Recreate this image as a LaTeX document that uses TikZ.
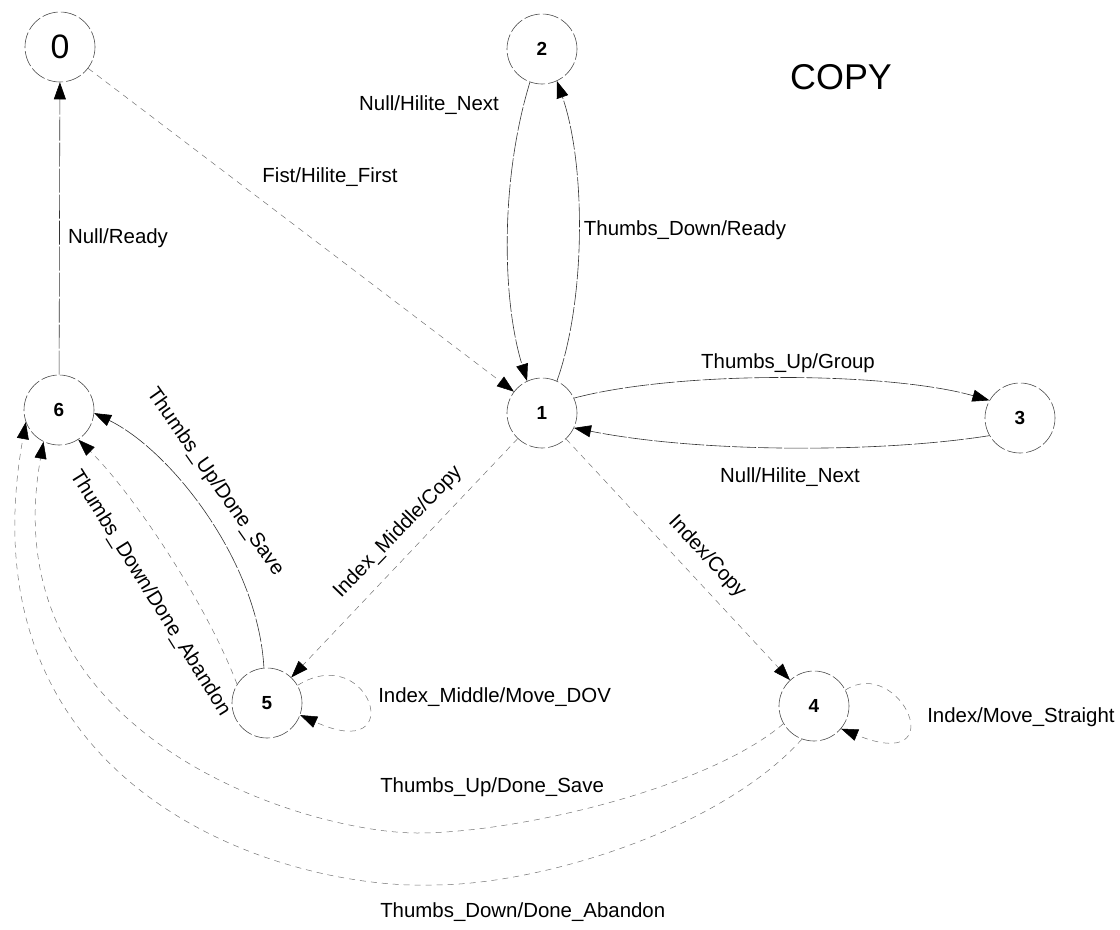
\documentclass[tikz,border=0pt]{standalone}
\usepackage{fontspec}
\setmainfont{Liberation Sans}
\usetikzlibrary{arrows.meta}
\tikzset{
  state/.style={circle, draw=black!70, line width=0.6bp, dash pattern=on 16bp off 3bp,
    minimum size=70bp, inner sep=0pt, font=\fontsize{19}{22}\selectfont\bfseries},
  bigstate/.style={state, font=\fontsize{34}{40}\selectfont},
  tip/.style={-{Triangle[length=17bp,width=12bp,color=black,fill=black]}},
  solidedge/.style={draw=black!80, line width=0.6bp, dash pattern=on 24bp off 2bp, tip},
  faintedge/.style={draw=black!55, line width=0.5bp, dash pattern=on 6bp off 5bp, tip},
  lbl/.style={font=\fontsize{20.5}{24}\selectfont, inner sep=0pt, text=black},
  title/.style={font=\fontsize{36}{42}\selectfont, inner sep=0pt}
}
\begin{document}
\begin{tikzpicture}[x=1bp, y=-1bp]
\path[use as bounding box] (0,0) rectangle (1120,930);

% states
\node[bigstate] (n0) at (60,47) {0};
\node[state] (n2) at (542,49) {2};
\node[state] (n1) at (542,413) {1};
\node[state] (n3) at (1020,418) {3};
\node[state] (n6) at (59,410) {6};
\node[state] (n5) at (267,703) {5};
\node[state] (n4) at (814,706) {4};

\node[title, anchor=west] (ttl) at (790,77) {COPY};

% 6 -> 0
\draw[solidedge] (n6) -- (n0)
  node[lbl] at (118,238) {Null/Ready};
% 0 -> 1
\draw[faintedge] (n0) -- (n1)
  node[lbl] at (330,177) {Fist/Hilite\_First};
% 2 -> 1
\draw[solidedge] (n2.250) .. controls (500,180) and (502,300) .. (n1.115)
  node[lbl] at (429,105) {Null/Hilite\_Next};
% 1 -> 2
\draw[solidedge] (n1.65) .. controls (586,300) and (586,165) .. (n2.295)
  node[lbl] at (685,230) {Thumbs\_Down/Ready};
% 1 -> 3
\draw[solidedge] (n1.25) .. controls (680,370) and (890,372) .. (n3.150)
  node[lbl] at (788,363) {Thumbs\_Up/Group};
% 3 -> 1
\draw[solidedge] (n3.210) .. controls (880,453) and (700,453) .. (n1.-25)
  node[lbl] at (790,477) {Null/Hilite\_Next};
% 1 -> 4
\draw[faintedge] (n1) -- (n4)
  node[lbl, rotate=-47] at (707,557) {Index/Copy};
% 1 -> 5
\draw[faintedge] (n1) -- (n5)
  node[lbl, rotate=46] at (398,532) {Index\_Middle/Copy};
% 5 -> 5
\draw[faintedge] (n5.30) .. controls (370,640) and (410,765) .. (n5.-20)
  node[lbl, anchor=west] at (378,697) {Index\_Middle/Move\_DOV};
% 4 -> 4
\draw[faintedge] (n4.27) .. controls (900,655) and (955,775) .. (n4.-40)
  node[lbl, anchor=west] at (927,717) {Index/Move\_Straight};
% 5 -> 6 (up)
\draw[solidedge] (n5.95) .. controls (258,560) and (170,450) .. (n6.-5)
  node[lbl, rotate=-55] at (215,482) {Thumbs\_Up/Done\_Save};
% 5 -> 6 (down)
\draw[faintedge] (n5.148) .. controls (205,600) and (130,490) .. (n6.-57)
  node[lbl, rotate=-58] at (150,593) {Thumbs\_Down/Done\_Abandon};
% 4 -> 6 (up)
\coordinate (b1) at (417,833);
\draw[faintedge] (n4.210) .. controls (710,787) and (520,833) .. (b1)
  .. controls (310,833) and (-10,740) .. (n6.244)
  node[lbl, anchor=west] at (380,787) {Thumbs\_Up/Done\_Save};
% 4 -> 6 (down)
\coordinate (b2) at (433,885);
\draw[faintedge] (n4.250) .. controls (720,830) and (540,885) .. (b2)
  .. controls (280,890) and (-40,790) .. (n6.200)
  node[lbl, anchor=west] at (380,912) {Thumbs\_Down/Done\_Abandon};
\end{tikzpicture}
\end{document}
